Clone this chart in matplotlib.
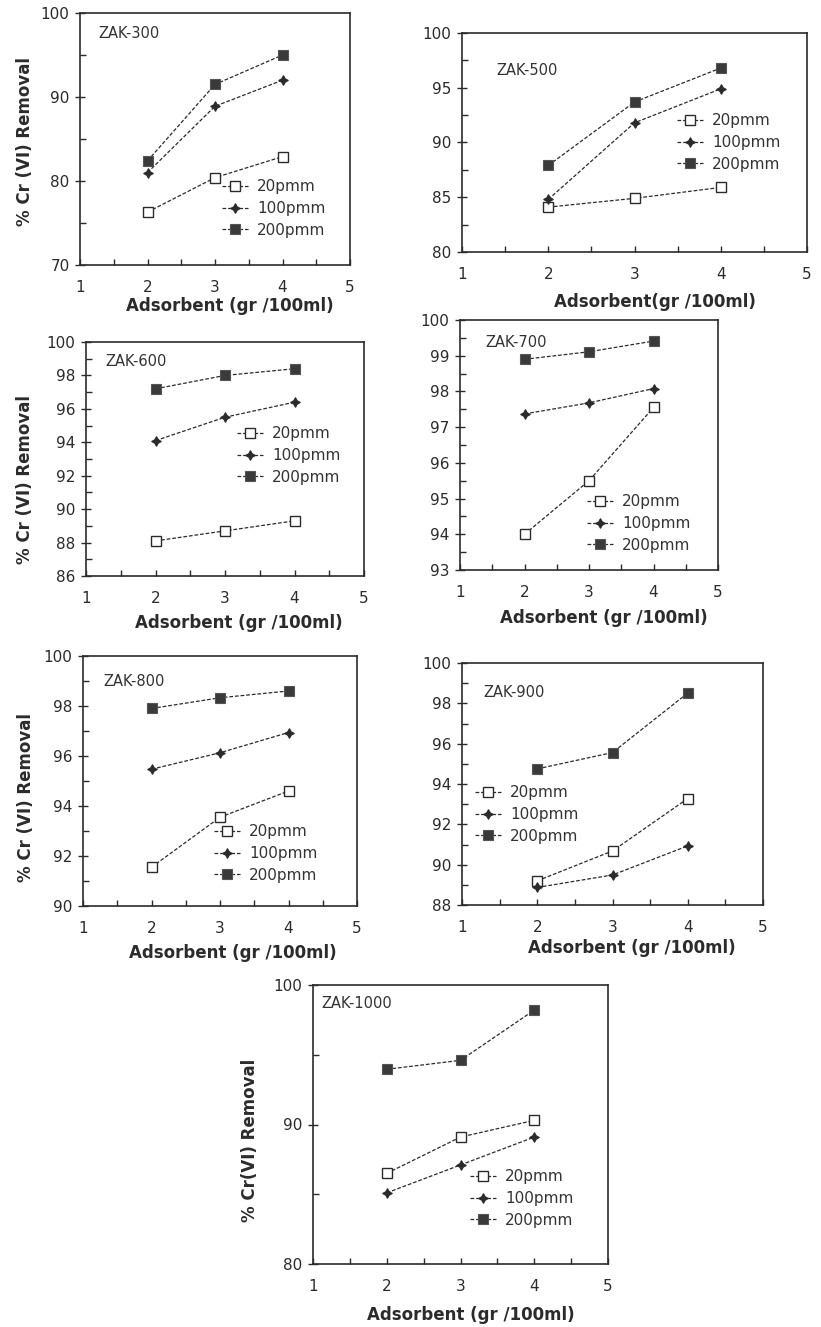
import numpy as np
import matplotlib
matplotlib.use('Agg')
import matplotlib.pyplot as plt
from matplotlib.ticker import MultipleLocator, AutoMinorLocator

W, H = 821, 1327  # output size in px

# --- data ---
adsorbent = [2, 3, 4]
conc_labels = ['20pmm', '100pmm', '200pmm']
panel_names = ['ZAK-300', 'ZAK-500', 'ZAK-600', 'ZAK-700', 'ZAK-800', 'ZAK-900', 'ZAK-1000']

zak300 = [[76.3, 80.4, 82.9], [81.0, 88.9, 92.0], [82.4, 91.5, 95.0]]
zak500 = [[84.1, 84.9, 85.9], [84.8, 91.8, 94.9], [87.9, 93.7, 96.8]]
zak600 = [[88.1, 88.7, 89.3], [94.1, 95.5, 96.4], [97.2, 98.0, 98.4]]
zak700 = [[94.0, 95.5, 97.55], [97.37, 97.68, 98.08], [98.9, 99.11, 99.41]]
zak800 = [[91.55, 93.55, 94.6], [95.47, 96.13, 96.94], [97.9, 98.33, 98.6]]
zak900 = [[89.2, 90.68, 93.28], [88.87, 89.49, 90.93], [94.75, 95.56, 98.51]]
zak1000 = [[86.5, 89.1, 90.3], [85.1, 87.1, 89.1], [93.96, 94.6, 98.2]]

y_lims = [(70, 100), (80, 100), (86, 100), (93, 100), (90, 100), (88, 100), (80, 100)]
y_steps = [10, 5, 2, 1, 2, 2, 10]

# --- layout (pixels): left, top, right, bottom of each axes box ---
boxes = [(80, 13, 350, 265), (462, 33, 807, 252), (86, 342, 364, 576),
         (460, 320, 718, 570), (83, 656, 357, 906), (462, 663, 763, 905),
         (313, 985, 608, 1264)]
# legend: first marker centre (px)
leg_pos = [(235, 188), (690, 122), (250, 435), (600, 503), (227, 833), (488, 794), (483, 1178)]
name_pos = [(0.067, 0.92), (0.10, 0.83), (0.07, 0.915), (0.10, 0.91), (0.073, 0.90), (0.07, 0.88), (0.027, 0.935)]
# label centres, px
xlab_px = [(230, 306), (655, 302), (239, 623), (604, 618), (233, 953), (632, 948), (471, 1315)]
ylab_px = [(25, 142), None, (25, 480), None, (26, 798), None, (250, 1140)]
xlab_txt = ['Adsorbent (gr /100ml)', 'Adsorbent(gr /100ml)', 'Adsorbent (gr /100ml)',
            'Adsorbent (gr /100ml)', 'Adsorbent (gr /100ml)', 'Adsorbent (gr /100ml)',
            'Adsorbent (gr /100ml)']
ylab_txt = ['% Cr (VI) Removal', None, '% Cr (VI) Removal', None, '% Cr (VI) Removal', None,
            '% Cr(VI) Removal']

ink = '#2b2b2b'
styles = [dict(marker='s', mfc='white', mec=ink, ms=6.5, mew=1.0),
          dict(marker=(4, 1, 0), mfc=ink, mec=ink, ms=7, mew=0.8),
          dict(marker='s', mfc='#3a3a3a', mec='#555555', ms=6.5, mew=0.8)]

fig = plt.figure(figsize=(W / 100, H / 100), dpi=100)
fig.patch.set_facecolor('white')

all_data = [zak300, zak500, zak600, zak700, zak800, zak900, zak1000]

for k, data in enumerate(all_data):
    l, t, r, b = boxes[k]
    ax = fig.add_axes([l / W, 1 - b / H, (r - l) / W, (b - t) / H])
    for s, series in enumerate(data):
        ax.plot(adsorbent, series, linestyle=(0, (3, 1.5)), lw=0.9, color=ink,
                label=conc_labels[s], **styles[s])
    ax.set_xlim(1, 5)
    ax.set_ylim(*y_lims[k])
    ax.xaxis.set_major_locator(MultipleLocator(1))
    ax.yaxis.set_major_locator(MultipleLocator(y_steps[k]))
    ax.xaxis.set_minor_locator(AutoMinorLocator(2))
    ax.yaxis.set_minor_locator(AutoMinorLocator(2))
    ax.tick_params(axis='x', which='both', direction='in', length=4, width=1, colors=ink,
                   labelsize=11, pad=11)
    ax.tick_params(axis='y', which='major', direction='inout', length=7, width=1, colors=ink,
                   labelsize=11, pad=4)
    ax.tick_params(axis='y', which='minor', direction='in', length=4, width=1, colors=ink)
    for sp in ax.spines.values():
        sp.set_linewidth(1.2)
        sp.set_color(ink)

    ax.text(name_pos[k][0], name_pos[k][1], panel_names[k], transform=ax.transAxes,
            fontsize=10.5, color='#333333', ha='left', va='center')

    # labels placed by their centre in pixels
    xl, yl = xlab_px[k]
    ax.set_xlabel(xlab_txt[k], fontsize=12, fontweight='bold', color=ink)
    ax.xaxis.label.set_verticalalignment('center')
    ax.xaxis.set_label_coords((xl - l) / (r - l), (b - yl) / (b - t))
    if ylab_txt[k] is not None:
        xl, yl = ylab_px[k]
        ax.set_ylabel(ylab_txt[k], fontsize=12, fontweight='bold', color=ink)
        ax.yaxis.label.set_verticalalignment('center')
        ax.yaxis.set_label_coords((xl - l) / (r - l), (b - yl) / (b - t))

    # legend, anchored from the pixel position of its first marker
    fs = 11
    hl = 1.7
    mx, my = leg_pos[k]
    ax_x = (mx - hl * fs * 1.39 / 2) / W
    ax_y = 1 - (my - 9) / H
    ax.legend(loc='upper left', bbox_to_anchor=(ax_x, ax_y), bbox_transform=fig.transFigure,
              frameon=False, fontsize=fs, handlelength=hl, handletextpad=0.6,
              labelspacing=0.45, borderpad=0, borderaxespad=0, labelcolor='#333333')

fig.savefig('out.png', dpi=100, facecolor='white')
